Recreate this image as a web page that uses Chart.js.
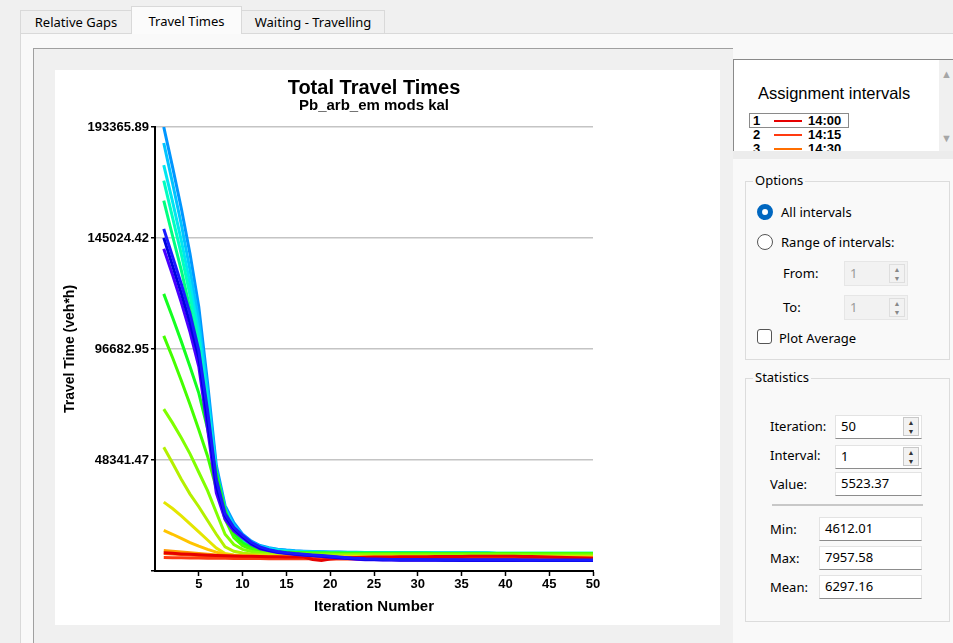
<!DOCTYPE html>
<html>
<head>
<meta charset="utf-8">
<script src="https://cdn.jsdelivr.net/npm/chart.js@4.4.1/dist/chart.umd.min.js"></script>
<style>
  html, body { margin: 0; padding: 0; }
  body { width: 953px; height: 643px; background: #f0f0f0; position: relative; overflow: hidden;
         font-family: 'Noto Sans', 'Open Sans', sans-serif; font-size: 13px; color: #000; }
  .abs { position: absolute; }
  .tab { position: absolute; box-sizing: border-box; border: 1px solid #d9d9d9; border-bottom: none;
         background: #f0f0f0; text-align: center; font-size: 13px; }
  .tab.active { background: #fbfbfb; z-index: 2; }
  #pane { left: 20px; top: 33px; width: 940px; height: 620px; background: #f9f9f9; border: 1px solid #d9d9d9; box-sizing: border-box; }
  #frame { left: 33px; top: 48px; width: 700px; height: 610px; background: #f0f0f0;
           border-top: 1px solid #a0a0a0; border-left: 1px solid #a0a0a0; box-sizing: border-box; }
  #card { left: 55px; top: 70px; width: 665px; height: 555px; background: #fff; }
  #legendBox { left: 733px; top: 59px; width: 225px; height: 92px; background: #fff;
               border-top: 1px solid #8a8a8a; border-left: 1px solid #8a8a8a; box-sizing: border-box; overflow: hidden; }
  #legendBand { left: 733px; top: 151px; width: 225px; height: 8px; background: #ececec; }
  #scroll { left: 939px; top: 60px; width: 14px; height: 91px; background: #f0f0f0; color: #a6a6a6; font-size: 11px; }
  .group { position: absolute; border: 1px solid #dcdcdc; box-sizing: border-box; }
  .glabel { position: absolute; background: #f9f9f9; padding: 0 2px; font-size: 13px; line-height: 16px; }
  .lbl { position: absolute; font-size: 13px; line-height: 16px; }
  .radio { position: absolute; width: 16px; height: 16px; border-radius: 50%; box-sizing: border-box; }
  .input { position: absolute; box-sizing: border-box; background: #fff; border: 1px solid #e3e3e3;
           border-bottom: 1px solid #8c8c8c; font-size: 13px; line-height: 20px; padding-left: 5px; }
  .spin { position: absolute; box-sizing: border-box; width: 16px; border: 1px solid #c8c8c8; background: #f2f2f2;
          font-size: 7px; line-height: 9px; text-align: center; color: #333; }
  .dis { background: #f2f2f2; border: 1px solid #e6e6e6; color: #9a9a9a; }
  .row { position: absolute; left: 15px; height: 14px; font: bold 13px 'Liberation Sans', Arial, sans-serif; line-height: 14px; }
  .row .num { position: absolute; left: 4px; }
  .row .ln { position: absolute; left: 25px; top: 6px; width: 28px; height: 2px; }
  .row .tm { position: absolute; left: 59px; }
</style>
</head>
<body>
<div class="tab" style="left:20px;top:10px;width:112px;height:24px;line-height:22px;">Relative Gaps</div>
<div class="tab active" style="left:131px;top:6px;width:111px;height:28px;line-height:28px;">Travel Times</div>
<div class="tab" style="left:241px;top:10px;width:144px;height:24px;line-height:22px;">Waiting - Travelling</div>
<div id="pane" class="abs"></div>
<div id="frame" class="abs"></div>
<div id="card" class="abs"><canvas id="travelChart" width="665" height="555"></canvas></div>

<div id="legendBox" class="abs">
  <div class="abs" style="left:24px;top:24px;font:16.5px 'Liberation Sans', Arial, sans-serif;">Assignment intervals</div>
  <div class="abs" style="left:15px;top:53px;width:100px;height:15px;border:1px solid #8a8a8a;box-sizing:border-box;"></div>
  <div id="legendRows"></div>
</div>
<div id="scroll" class="abs"><div class="abs" style="left:2px;top:6px;">&#9650;</div><div class="abs" style="left:2px;top:70px;">&#9660;</div></div>
<div id="legendBand" class="abs"></div>

<div class="group" style="left:745px;top:181px;width:205px;height:179px;"></div>
<div class="glabel" style="left:753px;top:172px;">Options</div>
<div class="radio" style="left:757px;top:204px;border:5px solid #0067c0;background:#fff;"></div>
<div class="lbl" style="left:781px;top:204px;">All intervals</div>
<div class="radio" style="left:757px;top:234px;border:1px solid #555;background:#fff;"></div>
<div class="lbl" style="left:781px;top:234px;">Range of intervals:</div>
<div class="lbl" style="left:783px;top:265px;">From:</div>
<div class="input dis" style="left:844px;top:261px;width:64px;height:25px;line-height:23px;">1</div>
<div class="spin" style="left:889px;top:264px;height:19px;border-color:#dedede;color:#888;">&#9650;<br>&#9660;</div>
<div class="lbl" style="left:783px;top:299px;">To:</div>
<div class="input dis" style="left:844px;top:295px;width:64px;height:25px;line-height:23px;">1</div>
<div class="spin" style="left:889px;top:298px;height:19px;border-color:#dedede;color:#888;">&#9650;<br>&#9660;</div>
<div class="abs" style="left:757px;top:329px;width:15px;height:15px;border:1px solid #555;border-radius:3px;background:#fff;box-sizing:border-box;"></div>
<div class="lbl" style="left:779px;top:330px;">Plot Average</div>

<div class="group" style="left:745px;top:378px;width:205px;height:244px;"></div>
<div class="glabel" style="left:753px;top:369px;">Statistics</div>
<div class="lbl" style="left:770px;top:418px;">Iteration:</div>
<div class="input" style="left:835px;top:415px;width:87px;height:24px;">50</div>
<div class="spin" style="left:903px;top:417px;height:19px;">&#9650;<br>&#9660;</div>
<div class="lbl" style="left:770px;top:447px;">Interval:</div>
<div class="input" style="left:835px;top:445px;width:87px;height:24px;">1</div>
<div class="spin" style="left:903px;top:447px;height:19px;">&#9650;<br>&#9660;</div>
<div class="lbl" style="left:770px;top:476px;">Value:</div>
<div class="input" style="left:835px;top:472px;width:87px;height:24px;">5523.37</div>
<div class="abs" style="left:772px;top:504px;width:151px;height:2px;background:#c8c8c8;"></div>
<div class="lbl" style="left:770px;top:521px;">Min:</div>
<div class="input" style="left:819px;top:517px;width:103px;height:24px;">4612.01</div>
<div class="lbl" style="left:770px;top:550px;">Max:</div>
<div class="input" style="left:819px;top:546px;width:103px;height:24px;">7957.58</div>
<div class="lbl" style="left:770px;top:579px;">Mean:</div>
<div class="input" style="left:819px;top:575px;width:103px;height:24px;">6297.16</div>

<script>
Chart.defaults.font.family = "'Liberation Sans', Arial, sans-serif";
Chart.defaults.color = '#000';

// iterations on the x axis
const iterations = [1,2,3,4,5,6,7,8,9,10,11,12,13,14,15,16,17,18,19,20,21,22,23,24,25,26,27,28,29,30,
                    31,32,33,34,35,36,37,38,39,40,41,42,43,44,45,46,47,48,49,50];
const xTicks = [5, 10, 15, 20, 25, 30, 35, 40, 45, 50];
const yTicks = [0, 48341.47, 96682.95, 145024.42, 193365.89];

// assignment intervals (legend order) and their colours, red -> blue
const intervalLabels = ['14:00','14:15','14:30','14:45','15:00','15:15','15:30','15:45','16:00',
                        '16:15','16:30','16:45','17:00','17:15','17:30','17:45','18:00','18:15'];
const lineColors = ['#e60000','#ff3a10','#ff6e00','#ff9a00','#ffc400','#e4e600','#b4f000','#80ff00','#44ff00',
                    '#14ff20','#00ff80','#00ffc0','#00e6f0','#00c4ff','#0096ff','#1a1aff','#0000e0','#4a00ff'];

// travel time (veh*h) per interval, iterations 1..50
const tt01 = [7958,7700,7450,7250,7050,6900,6780,6650,6550,6450,6380,6300,6250,6200,6150,6100,6050,5000,4612,5200,
              5600,5800,5900,6000,6050,6100,6150,6200,6200,6250,6250,6300,6300,6350,6350,6400,6400,6400,6450,6450,
              6400,6350,6300,6200,6100,6000,5900,5800,5650,5523];
const tt02 = [5850,5800,5750,5700,5650,5600,5560,5520,5480,5450,5420,5400,5380,5360,5340,5320,5300,5290,5280,5270,
              5260,5250,5240,5230,5220,5210,5200,5200,5190,5190,5180,5180,5170,5170,5160,5160,5150,5150,5140,5140,
              5130,5130,5120,5120,5110,5110,5100,5100,5090,5090];
const tt03 = [7600,7400,7200,7000,6800,6600,6400,6250,6150,6050,6000,5950,5900,5870,5840,5810,5780,5760,5740,5720,
              5700,5690,5680,5670,5660,5650,5640,5630,5620,5610,5600,5600,5590,5590,5580,5580,5570,5570,5560,5560,
              5550,5550,5540,5540,5530,5530,5520,5520,5510,5510];
const tt04 = [8900,8600,8250,7900,7600,7300,7000,6750,6550,6400,6300,6220,6160,6110,6070,6030,6000,5980,5960,5940,
              5920,5900,5890,5880,5870,5860,5850,5840,5830,5820,5810,5800,5800,5790,5790,5780,5780,5770,5770,5760,
              5760,5750,5750,5740,5740,5730,5730,5720,5720,5710];
const tt05 = [17640,16000,14200,12400,10800,9400,8200,7200,6800,6600,6500,6420,6360,6310,6270,6240,6210,6190,6170,6150,
              6130,6120,6110,6100,6090,6080,6070,6060,6050,6040,6030,6020,6020,6010,6010,6000,6000,5990,5990,5980,
              5980,5970,5970,5960,5960,5950,5950,5940,5940,5930];
const tt06 = [30000,27200,24000,20500,17000,13500,10000,7600,7000,6800,6700,6620,6560,6510,6470,6440,6410,6390,6370,6350,
              6330,6320,6310,6300,6290,6280,6270,6260,6250,6240,6230,6220,6220,6210,6210,6200,6200,6190,6190,6180,
              6180,6170,6170,6160,6160,6150,6150,6140,6140,6130];
const tt07 = [53900,47000,40000,33500,28000,22000,16000,10500,8600,7800,7400,7200,7050,6950,6870,6800,6750,6710,6680,6650,
              6630,6610,6590,6570,6550,6540,6530,6520,6510,6500,6490,6480,6470,6460,6460,6450,6450,6440,6440,6430,
              6430,6420,6420,6410,6410,6400,6400,6390,6390,6380];
const tt08 = [70500,64500,58000,51000,43000,35000,25500,16000,11500,9400,8500,8000,7750,7600,7500,7430,7380,7340,7300,7270,
              7240,7220,7200,7180,7160,7150,7140,7130,7120,7110,7100,7090,7080,7070,7070,7060,7060,7050,7050,7040,
              7040,7030,7030,7020,7020,7010,7010,7000,7000,7000];
const tt09 = [102400,93000,83000,72500,61500,50000,36000,22500,14500,11000,9500,8800,8400,8100,7950,7850,7800,7760,7730,7700,
              7680,7670,7660,7650,7640,7640,7630,7630,7620,7620,7620,7610,7610,7610,7600,7600,7600,7600,7590,7590,
              7590,7590,7580,7580,7580,7580,7570,7570,7570,7570];
const tt10 = [120700,110500,100000,89000,77500,62000,43000,26500,16500,12200,10200,9200,8700,8300,8100,7950,7870,7820,7790,7760,
              7740,7730,7720,7710,7700,7700,7690,7690,7680,7680,7680,7670,7670,7670,7660,7660,7660,7660,7650,7650,
              7650,7650,7640,7640,7640,7640,7630,7630,7630,7630];
const tt11 = [161300,146000,131000,114000,95000,68000,38500,23500,16500,12300,10200,9100,8600,8350,8200,8100,8020,7960,7920,7880,
              7850,7830,7810,7800,7790,7780,7770,7760,7760,7750,7750,7740,7740,7730,7730,7730,7720,7720,7720,7710,
              7710,7710,7700,7700,7700,7700,7690,7690,7690,7690];
const tt12 = [170000,154000,138000,120000,100000,72000,40500,25000,17500,13200,10900,9600,8900,8600,8400,8260,8170,8100,8040,8000,
              7960,7930,7900,7880,7860,7840,7830,7820,7810,7800,7790,7780,7780,7770,7770,7760,7760,7750,7750,7750,
              7740,7740,7740,7730,7730,7730,7720,7720,7720,7720];
const tt13 = [176800,161000,144000,125000,104000,75000,42000,26500,19000,14800,12200,10600,9700,9100,8750,8500,8360,8260,8180,8110,
              8060,8020,7980,7950,7920,7900,7880,7860,7840,7820,7800,7790,7780,7770,7760,7750,7740,7730,7600,7450,
              7420,7400,7390,7380,7370,7360,7350,7340,7330,7320];
const tt14 = [186400,169000,151000,131000,109000,78500,44000,27500,20000,15400,12600,10800,9900,9300,8900,8650,8480,8370,8280,8210,
              8150,8100,8060,8020,7990,7960,7930,7910,7890,7870,7850,7840,7830,7820,7810,7800,7790,7780,7620,7470,
              7440,7420,7410,7400,7390,7380,7370,7360,7350,7340];
const tt15 = [193366,176000,158000,138000,115000,82000,46000,28500,21000,16000,13000,11100,10100,9500,9100,8800,8620,8500,8400,8320,
              8250,8190,8140,8100,8060,8020,7990,7960,7930,7900,7880,7860,7840,7830,7820,7810,7800,7790,7640,7490,
              7460,7440,7430,7420,7410,7400,7390,7380,7370,7360];
const tt16 = [149000,137000,125000,112000,96000,70000,40000,25000,19000,15500,12500,10500,9300,8500,8000,7600,7300,7000,6700,6400,
              6100,5800,5500,5300,5200,5100,5050,5000,4980,4960,4950,4940,4930,4920,4910,4900,4890,4880,4870,4860,
              4850,4840,4830,4820,4810,4800,4800,4790,4790,4780];
const tt17 = [145100,133000,121000,108000,93000,66000,37000,24000,18500,15000,12000,10000,9000,8300,7800,7400,7100,6800,6500,6200,
              5900,5600,5300,5100,5000,4900,4850,4800,4780,4760,4750,4740,4730,4720,4710,4700,4690,4680,4670,4660,
              4650,4640,4630,4620,4610,4600,4600,4590,4590,4580];
const tt18 = [140360,129000,117000,104000,89000,62000,34000,22500,17500,14500,11600,9700,8800,8100,7600,7200,6900,6600,6300,6000,
              5700,5400,5100,4950,4850,4800,4760,4730,4700,4680,4660,4650,4640,4630,4620,4610,4600,4590,4580,4570,
              4560,4560,4550,4550,4540,4540,4530,4530,4520,4520];

const seriesList = [tt01, tt02, tt03, tt04, tt05, tt06, tt07, tt08, tt09, tt10, tt11, tt12, tt13, tt14, tt15, tt16, tt17, tt18];

// blue lines on top, then the red/orange ones, then the green/cyan bundle
const datasets = seriesList.map((values, i) => ({
    label: intervalLabels[i],
    data: values,
    borderColor: lineColors[i],
    backgroundColor: lineColors[i],
    borderWidth: 3,
    pointRadius: 0,
    tension: 0,
    fill: false,
    order: i >= 15 ? 0 : (i < 4 ? 1 : 2)
}));

new Chart(document.getElementById('travelChart').getContext('2d'), {
    type: 'line',
    data: { labels: iterations, datasets: datasets },
    options: {
        responsive: false,
        animation: false,
        layout: { padding: { top: 0, right: 127, bottom: 0, left: 0 } },
        plugins: {
            legend: { display: false },
            tooltip: { enabled: false },
            title: {
                display: true, text: 'Total Travel Times', fullSize: false, color: '#000',
                font: { size: 20, weight: 'bold', lineHeight: 1 },
                padding: { top: 8, bottom: 0 }
            },
            subtitle: {
                display: true, text: 'Pb_arb_em mods kal', fullSize: false, color: '#000',
                font: { size: 15, weight: 'bold', lineHeight: 1 },
                padding: { top: 0, bottom: 14 }
            }
        },
        scales: {
            x: {
                type: 'linear', min: 0, max: 50,
                afterBuildTicks: (scale) => { scale.ticks = xTicks.map(v => ({ value: v })); },
                afterFit: (scale) => { scale.height = 54; },
                border: { display: true, color: '#000', width: 2 },
                grid: { drawOnChartArea: false, drawTicks: true, tickLength: 5, tickColor: '#000', tickWidth: 1.5 },
                ticks: { font: { size: 13, weight: 'bold' }, color: '#000', padding: 1, maxRotation: 0 },
                title: { display: true, text: 'Iteration Number', color: '#000',
                         font: { size: 15, weight: 'bold', lineHeight: 1.2 }, padding: { top: 0, bottom: 9 } }
            },
            y: {
                min: 0, max: 193365.89,
                afterBuildTicks: (scale) => { scale.ticks = yTicks.map(v => ({ value: v })); },
                afterFit: (scale) => { scale.width = 100; },
                border: { display: true, color: '#000', width: 2 },
                grid: {
                    color: (ctx) => ctx.tick && ctx.tick.value === 0 ? 'rgba(0,0,0,0)' : '#c4c4c4',
                    lineWidth: 1.5, drawTicks: true, tickLength: 4, tickColor: '#000', tickWidth: 1.5
                },
                ticks: {
                    font: { size: 13, weight: 'bold' }, color: '#000', padding: 2,
                    callback: (v) => v === 0 ? '' : v.toFixed(2)
                },
                title: { display: true, text: 'Travel Time (veh*h)', color: '#000',
                         font: { size: 14, weight: 'bold', lineHeight: 1.2 }, padding: { top: 7, bottom: 0 } }
            }
        }
    }
});

// custom legend list, like the app's "Assignment intervals" box
const rows = document.getElementById('legendRows');
intervalLabels.forEach((label, i) => {
    const row = document.createElement('div');
    row.className = 'row';
    row.style.top = (54 + i * 14) + 'px';
    row.innerHTML = `<span class="num">${i + 1}</span><span class="ln" style="background:${lineColors[i]}"></span><span class="tm">${label}</span>`;
    rows.appendChild(row);
});
</script>
</body>
</html>
